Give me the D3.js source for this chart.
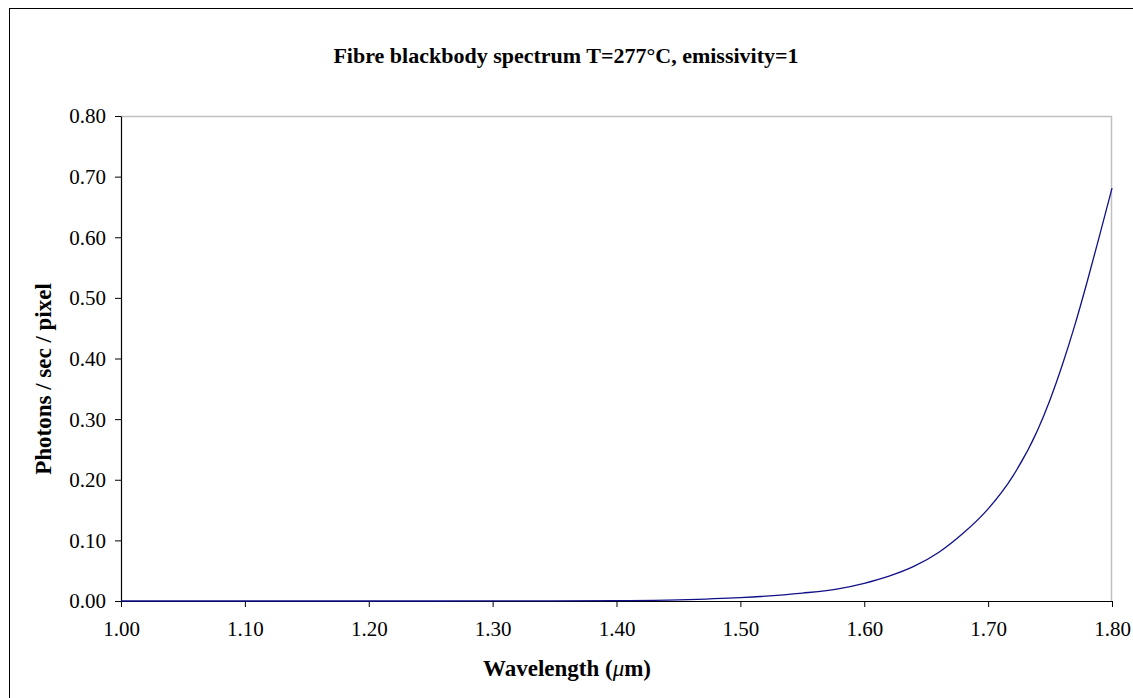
<!DOCTYPE html>
<html>
<head>
<meta charset="utf-8">
<script src="https://cdn.jsdelivr.net/npm/d3@7/dist/d3.min.js"></script>
<style>
  body { margin: 0; background: #fff; }
  svg { display: block; }
  text { font-family: "Palatino Linotype", "Book Antiqua", Palatino, "Liberation Serif", serif; fill: #000; }
</style>
</head>
<body>
<svg id="chart" width="1133" height="698"></svg>
<script>
// wavelength (um) and photon rate
var wavelengths = [1.00, 1.10, 1.20, 1.30, 1.35, 1.40, 1.45, 1.50, 1.55, 1.58, 1.60, 1.62, 1.64, 1.66, 1.68, 1.70, 1.72, 1.74, 1.75, 1.76, 1.77, 1.78, 1.79, 1.80];
var photons     = [0.0000, 0.0000, 0.0000, 0.0001, 0.0003, 0.0007, 0.0020, 0.0055, 0.0130, 0.0205, 0.0292, 0.0410, 0.0570, 0.0800, 0.1120, 0.1520, 0.2060, 0.2820, 0.3320, 0.3900, 0.4550, 0.5270, 0.6030, 0.6810];
var xTicks = [1.0, 1.1, 1.2, 1.3, 1.4, 1.5, 1.6, 1.7, 1.8];
var yTicks = [0, 0.1, 0.2, 0.3, 0.4, 0.5, 0.6, 0.7, 0.8];

var svg = d3.select("#chart");
var margin = { left: 121, top: 116, right: 1133 - 1112, bottom: 698 - 601 };
var w = 1133 - margin.left - margin.right;
var h = 698 - margin.top - margin.bottom;

// outer chart frame (runs off the right / bottom edge)
svg.append("rect")
    .attr("x", 9.5).attr("y", 8.5)
    .attr("width", 1140).attr("height", 720)
    .attr("fill", "none").attr("stroke", "#000").attr("stroke-width", 1);

var g = svg.append("g").attr("transform", "translate(" + margin.left + "," + margin.top + ")");

var x = d3.scaleLinear().domain([1.0, 1.8]).range([0, w]);
var y = d3.scaleLinear().domain([0, 0.8]).range([h, 0]);

// plot area border, grey on top and right
g.append("path")
    .attr("d", "M0,0.5H" + (w - 0.5) + "V" + h)
    .attr("fill", "none").attr("stroke", "#c0c0c0").attr("stroke-width", 1.5);

var xAxis = g.append("g")
    .attr("transform", "translate(0," + h + ")")
    .call(d3.axisBottom(x).tickValues(xTicks).tickFormat(d3.format(".2f")).tickSizeInner(6).tickSizeOuter(0));
var yAxis = g.append("g")
    .call(d3.axisLeft(y).tickValues(yTicks).tickFormat(d3.format(".2f")).tickSizeInner(6).tickSizeOuter(0).tickPadding(9));

[xAxis, yAxis].forEach(function(a) {
    a.select(".domain").attr("stroke", "#000").attr("stroke-width", 1.2);
    a.selectAll(".tick line").attr("stroke", "#000");
    a.selectAll("text").attr("font-family", null).style("font-size", "21px");
});
xAxis.selectAll("text").attr("y", 35).attr("dy", 0);
yAxis.selectAll("text").attr("dy", "0.33em");

var pts = wavelengths.map(function(d, i) { return [d, photons[i]]; });
var line = d3.line()
    .x(function(d) { return x(d[0]); })
    .y(function(d) { return y(d[1]); })
    .curve(d3.curveMonotoneX);

g.append("path")
    .datum(pts)
    .attr("d", line)
    .attr("fill", "none")
    .attr("stroke", "#10108a")
    .attr("stroke-width", 1.3);

svg.append("text")
    .attr("x", 566).attr("y", 63)
    .attr("text-anchor", "middle")
    .style("font-size", "22px").style("font-weight", "bold")
    .text("Fibre blackbody spectrum T=277°C, emissivity=1");

var xl = svg.append("text")
    .attr("x", 567).attr("y", 676)
    .attr("text-anchor", "middle")
    .style("font-size", "23px").style("font-weight", "bold");
xl.append("tspan").text("Wavelength (");
xl.append("tspan").style("font-style", "italic").style("font-weight", "normal").text("μ");
xl.append("tspan").text("m)");

svg.append("text")
    .attr("transform", "translate(51,379) rotate(-90)")
    .attr("text-anchor", "middle")
    .style("font-size", "23px").style("font-weight", "bold")
    .text("Photons / sec / pixel");
</script>
</body>
</html>
